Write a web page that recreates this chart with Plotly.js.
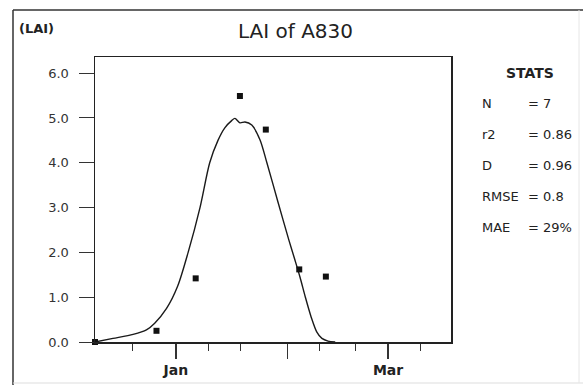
<!DOCTYPE html>
<html>
<head>
<meta charset="utf-8">
<script src="https://cdn.plot.ly/plotly-3.0.1.min.js"></script>
<style>html,body{margin:0;padding:0;background:#fff;}#chart{width:583px;height:387px;}</style>
</head>
<body>
<div id="chart"></div>
<script>
// Days relative to Jan 1
const simDays = [-22.5, -17.5, -11.9, -8.2, -5.9, -2.6, 0.5, 3.4, 6.7, 9.4, 11.7, 13.6, 15.5, 16.4, 17.8, 19.2, 21.1, 23.4, 25.3, 28.4, 31.4, 33.1, 34.5, 36.0, 37.6, 39.2, 40.6, 42.3, 44.3];
const simLAI  = [0.00, 0.08, 0.17, 0.27, 0.42, 0.75, 1.25, 2.00, 3.00, 4.00, 4.50, 4.78, 4.94, 4.99, 4.89, 4.91, 4.84, 4.51, 4.00, 3.12, 2.28, 1.83, 1.45, 1.00, 0.56, 0.22, 0.08, 0.02, 0.00];
const obsDays = [-22.5, -5.4, 5.5, 17.8, 25.0, 34.3, 41.7];
const obsLAI  = [0.00, 0.25, 1.42, 5.49, 4.74, 1.62, 1.46];
const majorTickDays = [0, 31, 59];
const majorTickLabels = ['Jan', '', 'Mar'];
const minorTickDays = [-12, 9, 18, 40, 50, 68];
const yTicks = [0, 1, 2, 3, 4, 5, 6];
const statNames = ['N', 'r2', 'D', 'RMSE', 'MAE'];
const statValues = ['= 7', '= 0.86', '= 0.96', '= 0.8', '= 29%'];

// pixel -> paper helpers (plot area: x 95..451, y 57..342)
const L = 95, R = 451, T = 57, B = 342;
const PX = p => (p - L) / (R - L);
const PY = p => (B - p) / (B - T);
const FONT = 'DejaVu Sans, Arial, sans-serif';
const INK = '#222';

const traces = [
  {x: simDays, y: simLAI, mode: 'lines', type: 'scatter',
   line: {color: '#1a1a1a', width: 1.4, shape: 'spline', smoothing: 0.8}, hoverinfo: 'skip', cliponaxis: false},
  {x: obsDays, y: obsLAI, mode: 'markers', type: 'scatter',
   marker: {symbol: 'square', size: 6, color: '#111', line: {width: 0}}, cliponaxis: false}
];

const statRowY = [104, 134, 165, 196, 227];
const annotations = [
  {text: '(LAI)', x: PX(17), y: PY(29), xref: 'paper', yref: 'paper', xanchor: 'left', yanchor: 'middle',
   showarrow: false, font: {family: FONT, size: 13, color: INK, weight: 'bold'}},
  {text: 'STATS', x: PX(530), y: PY(73), xref: 'paper', yref: 'paper', xanchor: 'center', yanchor: 'middle',
   showarrow: false, font: {family: FONT, size: 14, color: INK, weight: 'bold'}}
];
statNames.forEach((n, i) => {
  annotations.push({text: n, x: PX(480), y: PY(statRowY[i]), xref: 'paper', yref: 'paper', xanchor: 'left', yanchor: 'middle',
    showarrow: false, font: {family: FONT, size: 13, color: INK}});
  annotations.push({text: statValues[i], x: PX(526), y: PY(statRowY[i]), xref: 'paper', yref: 'paper', xanchor: 'left', yanchor: 'middle',
    showarrow: false, font: {family: FONT, size: 13, color: INK}});
});

const shapes = [
  {type: 'line', xref: 'paper', yref: 'paper', x0: PX(13), x1: PX(13), y0: PY(385), y1: PY(10), line: {color: '#333', width: 1.5}},
  {type: 'line', xref: 'paper', yref: 'paper', x0: PX(13), x1: PX(590), y0: PY(10), y1: PY(10), line: {color: '#333', width: 1.5}},
  {type: 'line', xref: 'paper', yref: 'paper', x0: PX(13), x1: PX(590), y0: PY(383), y1: PY(383), line: {color: '#ddd', width: 1}},
  {type: 'line', xref: 'paper', yref: 'paper', x0: PX(579), x1: PX(579), y0: PY(383), y1: PY(10), line: {color: '#e6e6e6', width: 1}}
];

const layout = {
  width: 583, height: 387,
  margin: {l: L, r: 583 - R, t: T, b: 387 - B, pad: 0},
  paper_bgcolor: '#fff', plot_bgcolor: '#fff',
  showlegend: false,
  title: {text: 'LAI of A830', x: PX(295.5), xref: 'paper', xanchor: 'center', y: 1 - 31 / 387, yanchor: 'middle',
          font: {family: FONT, size: 20, color: INK}},
  xaxis: {
    range: [-22.5, 76.5], tickmode: 'array', tickvals: majorTickDays, ticktext: majorTickLabels,
    ticks: 'outside', ticklen: 15, tickwidth: 1.2, tickcolor: '#333',
    minor: {tickmode: 'array', tickvals: minorTickDays, ticks: 'outside', ticklen: 7, tickwidth: 1.2, tickcolor: '#333', showgrid: false},
    showline: true, linecolor: '#222', linewidth: 1.5, mirror: true,
    showgrid: false, zeroline: false,
    tickfont: {family: FONT, size: 14, color: INK, weight: 'bold'}
  },
  yaxis: {
    range: [0, 6.36], tickmode: 'array', tickvals: yTicks, tickformat: '.1f',
    ticks: 'outside', ticklen: 15, tickwidth: 1, tickcolor: '#333', ticklabelstandoff: 7,
    showline: true, linecolor: '#222', linewidth: 1.5, mirror: true,
    showgrid: false, zeroline: false,
    tickfont: {family: FONT, size: 13, color: '#333'}
  },
  annotations: annotations,
  shapes: shapes
};

Plotly.newPlot('chart', traces, layout, {displayModeBar: false, staticPlot: true});
</script>
</body>
</html>
